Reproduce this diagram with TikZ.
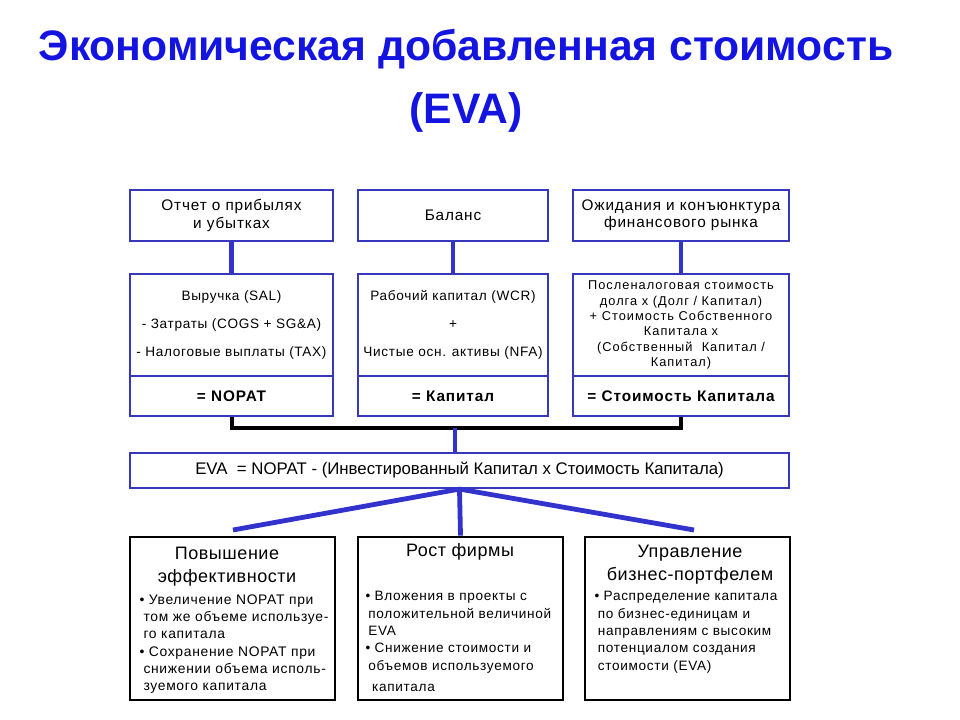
\documentclass[tikz,border=0pt]{standalone}
\usepackage{fontspec}
\setmainfont{Liberation Sans}

\definecolor{titleblue}{RGB}{20,20,225}
\definecolor{boxblue}{RGB}{55,55,190}
\definecolor{lineblue}{RGB}{50,50,205}

\newcommand{\titlefont}{\fontsize{32}{47}\bfseries\selectfont}
\newcommand{\topfont}{\fontsize{11.5}{12.8}\selectfont\addfontfeature{LetterSpace=5.5}}
\newcommand{\midfont}{\fontsize{10.2}{21}\selectfont\addfontfeature{LetterSpace=5}}
\newcommand{\costfont}{\fontsize{9.6}{11.5}\selectfont\addfontfeature{LetterSpace=8}}
\newcommand{\sumfont}{\fontsize{11.5}{12}\bfseries\selectfont\addfontfeature{LetterSpace=6}}
\newcommand{\evafont}{\fontsize{12.6}{14}\selectfont}
\newcommand{\headfont}{\fontsize{13.5}{17.2}\selectfont\addfontfeature{LetterSpace=3}}
\newcommand{\bulfont}{\fontsize{10.4}{13}\selectfont\addfontfeature{LetterSpace=5}}
\newcommand{\bulfontb}{\fontsize{10.2}{13}\selectfont\addfontfeature{LetterSpace=5}}

\tikzset{every picture/.style={line width=0.75pt}}
\tikzset{
  bluebox/.style={draw=boxblue, line width=1.6pt, inner sep=0pt, align=center},
  blackbox/.style={draw=black, line width=2pt, inner sep=0pt},
  blueline/.style={draw=lineblue, line width=3.6pt},
  blackline/.style={draw=black, line width=3pt},
  bullets/.style={anchor=north west, inner sep=0pt, align=left, font=\bulfont}
}

\begin{document}
\begin{tikzpicture}[x=0.75pt,y=0.75pt,yscale=-1,xscale=1]
\path[use as bounding box, fill=white] (0,0) rectangle (960,720);

% Title
\draw (466,81) node [inner sep=0pt, align=center, text=titleblue, font=\titlefont] (title) {Экономическая добавленная стоимость\\(EVA)};

%Shape: Rectangle [source boxes]
\node [bluebox, minimum width=152.25pt, minimum height=38.25pt, font=\topfont] (inc) at (231.5,215.5) {Отчет о прибылях\\и убытках};
\node [bluebox, minimum width=142.5pt, minimum height=38.25pt, font=\topfont] (bal) at (453,215.5) {Баланс};
\node [bluebox, minimum width=162pt, minimum height=38.25pt, font=\topfont] (mkt) at (681,215.5) {Ожидания и конъюнктура\\финансового рынка};

%Shape: Rectangle [components]
\node [bluebox, minimum width=152.25pt, minimum height=76.5pt, font=\midfont] (inc1) at (231.5,325) {Выручка (SAL)\\- Затраты (COGS + SG\&A)\\- Налоговые выплаты (TAX)};
\node [bluebox, minimum width=142.5pt, minimum height=76.5pt, font=\midfont] (bal1) at (453,325) {Рабочий капитал (WCR)\\+\\Чистые осн. активы (NFA)};
\node [bluebox, minimum width=162pt, minimum height=76.5pt, font=\costfont] (mkt1) at (681,325) {Посленалоговая стоимость\\ долга х (Долг / Капитал)\\+ Стоимость Собственного\\Капитала х\\(Собственный\ \ Капитал /\\Капитал)};

%Shape: Rectangle [results]
\node [bluebox, minimum width=152.25pt, minimum height=30pt, font=\sumfont] (inc2) at (231.5,396) {= NOPAT};
\node [bluebox, minimum width=142.5pt, minimum height=30pt, font=\sumfont] (bal2) at (453,396) {= Капитал};
\node [bluebox, minimum width=162pt, minimum height=30pt, font=\sumfont] (mkt2) at (681,396) {= Стоимость Капитала};

%Shape: Rectangle [EVA]
\node [bluebox, minimum width=494.25pt, minimum height=26.25pt, font=\evafont] (eva) at (459.5,470.5) {EVA\ \ = NOPAT - (Инвестированный Капитал х Стоимость Капитала)};

%Shape: Rectangle [levers]
\node [blackbox, minimum width=153.75pt, minimum height=122.25pt] (eff) at (232.5,618.5) {};
\node [blackbox, minimum width=153.75pt, minimum height=122.25pt] (grow) at (460.5,618.5) {};
\node [blackbox, minimum width=153.75pt, minimum height=122.25pt] (port) at (687.5,618.5) {};

%Straight Lines
\draw [blueline] (inc.south) -- (inc1.north);
\draw [blueline] (bal.south) -- (bal1.north);
\draw [blueline] (mkt.south) -- (mkt1.north);

\coordinate (brk) at (455,428);
\draw [blackline] (inc2.south) |- (brk) -| (mkt2.south);
\draw [blueline] (brk) -- (brk |- eva.north);

\coordinate (fanl) at (233,530);
\coordinate (fanr) at (694,530);
\draw [blueline] (eva.south) -- (fanl);
\draw [blueline] (eva.south) -- (grow.north);
\draw [blueline] (eva.south) -- (fanr);

% Text Node
\draw (227,567) node [inner sep=0pt, align=center, font=\headfont] (effh) {Повышение\\эффективности};
% Text Node
\draw (460,552) node [inner sep=0pt, align=center, font=\headfont] (growh) {Рост фирмы};
% Text Node
\draw (690,564.5) node [inner sep=0pt, align=center, font=\headfont] (porth) {Управление\\бизнес-портфелем};

% Text Node
\draw (139,594) node [bullets] (effb) {\textbullet\ Увеличение NOPAT при\\
\hspace*{3pt}том же объеме используе-\\
\hspace*{3pt}го капитала\\
\textbullet\ Сохранение NOPAT при\\
\hspace*{3pt}снижении объема исполь-\\
\hspace*{3pt}зуемого капитала};
% Text Node
\draw (365,591) node [bullets, font=\bulfontb] (growb) {\textbullet\ Вложения в проекты с\\
\hspace*{2.2pt}положительной величиной\\
\hspace*{2.2pt}EVA\\
\textbullet\ Снижение стоимости и\\
\hspace*{2.2pt}объемов используемого\\[3pt]
\hspace*{5pt}капитала};
% Text Node
\draw (594,591) node [bullets, font=\bulfontb] (portb) {\textbullet\ Распределение капитала\\
\hspace*{2.5pt}по бизнес-единицам и\\
\hspace*{2.5pt}направлениям с высоким\\
\hspace*{2.5pt}потенциалом создания\\
\hspace*{2.5pt}стоимости (EVA)};
\end{tikzpicture}
\end{document}
